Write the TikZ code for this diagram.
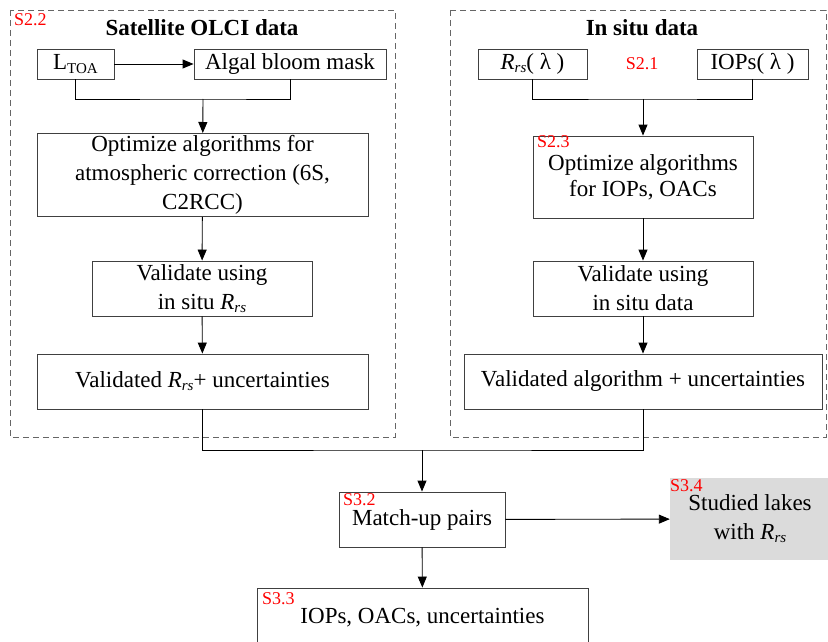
\documentclass[tikz,border=0pt]{standalone}
\usepackage{fontspec}
\setmainfont{Liberation Serif}
\usetikzlibrary{arrows.meta}
\newcommand{\lowsub}[1]{\raisebox{-0.3ex}{\fontsize{15}{15}\selectfont #1}}
\newcommand{\rrs}{\textit{R}\lowsub{\textit{rs}}}

\begin{document}
\begin{tikzpicture}[x=1pt, y=-1pt, font=\fontsize{23}{29}\selectfont,
  >={Triangle[length=11pt,width=9pt]},
  box/.style={rectangle, draw=black!75, line width=0.9pt, inner sep=2pt, align=center},
  group/.style={draw=black!60, dash pattern=on 6pt off 4pt, line width=0.9pt},
  sec/.style={text=red, font=\fontsize{18}{18}\selectfont, inner sep=0pt, anchor=north west},
  link/.style={line width=0.9pt}]
\clip (0,0) rectangle (828,642);

\draw[group] (10,10) rectangle (395,437);
\draw[group] (450,10) rectangle (826,437);

\node[font=\fontsize{23}{29}\selectfont\bfseries] (t1) at (202,28) {Satellite OLCI data};
\node[font=\fontsize{23}{29}\selectfont\bfseries] (t2) at (642,28) {In situ data};

\node[box, minimum width=77, minimum height=30] (1) at (75.5,64) {L\lowsub{TOA}};
\node[box, minimum width=192, minimum height=30] (2) at (290,64) {Algal bloom mask};
\node[box, minimum width=331, minimum height=82] (3) at (202.5,175) {Optimize algorithms for\\atmospheric correction (6S,\\C2RCC)};
\node[box, minimum width=220, minimum height=55] (4) at (202,288.5) {Validate using\\in situ \rrs};
\node[box, minimum width=331, minimum height=55] (5) at (202.5,381.5) {Validated \rrs+ uncertainties};

\node[box, minimum width=109, minimum height=30] (6) at (532.5,64) {\rrs( λ )};
\node[box, minimum width=111, minimum height=30] (7) at (752.5,64) {IOPs( λ )};
\node[box, minimum width=220, minimum height=82, font=\fontsize{23}{26}\selectfont] (8) at (643,177) {Optimize algorithms\\for IOPs, OACs};
\node[box, minimum width=220, minimum height=55] (9) at (643,288.5) {Validate using\\in situ data};
\node[box, minimum width=358, minimum height=55] (10) at (643,381.5) {Validated algorithm + uncertainties};

\node[box, minimum width=166, minimum height=55] (11) at (422,519.5) {Match-up pairs};
\node[rectangle, fill=black!14, minimum width=160, minimum height=82, align=center] (12) at (750,519) {Studied lakes\\with \rrs};
\node[box, minimum width=331, minimum height=60] (13) at (422.5,618) {IOPs, OACs, uncertainties};

\node[sec] (s1) at (14,13) {S2.2};
\node[sec, anchor=center] (s2) at (642,64) {S2.1};
\node[sec] (s3) at (537,135) {S2.3};
\node[sec] (s4) at (343,493) {S3.2};
\node[sec] (s5) at (670,479) {S3.4};
\node[sec] (s6) at (262,592) {S3.3};

\coordinate (j1) at (203,99);
\coordinate (j2) at (643,99);
\coordinate (j3) at (422,450);

\draw[link, ->] (1) -- (2);
\draw[link] (1) |- (j1) -| (2);
\draw[link, ->] (j1) -- (3);
\draw[link, ->] (3) -- (4);
\draw[link, ->] (4) -- (5);

\draw[link] (6) |- (j2) -| (7);
\draw[link, ->] (j2) -- (8);
\draw[link, ->] (8) -- (9);
\draw[link, ->] (9) -- (10);

\draw[link] (5) |- (j3) -| (10);
\draw[link, ->] (j3) -- (11);
\draw[link, ->] (11) -- (12);
\draw[link, ->] (11) -- (13);
\end{tikzpicture}
\end{document}
